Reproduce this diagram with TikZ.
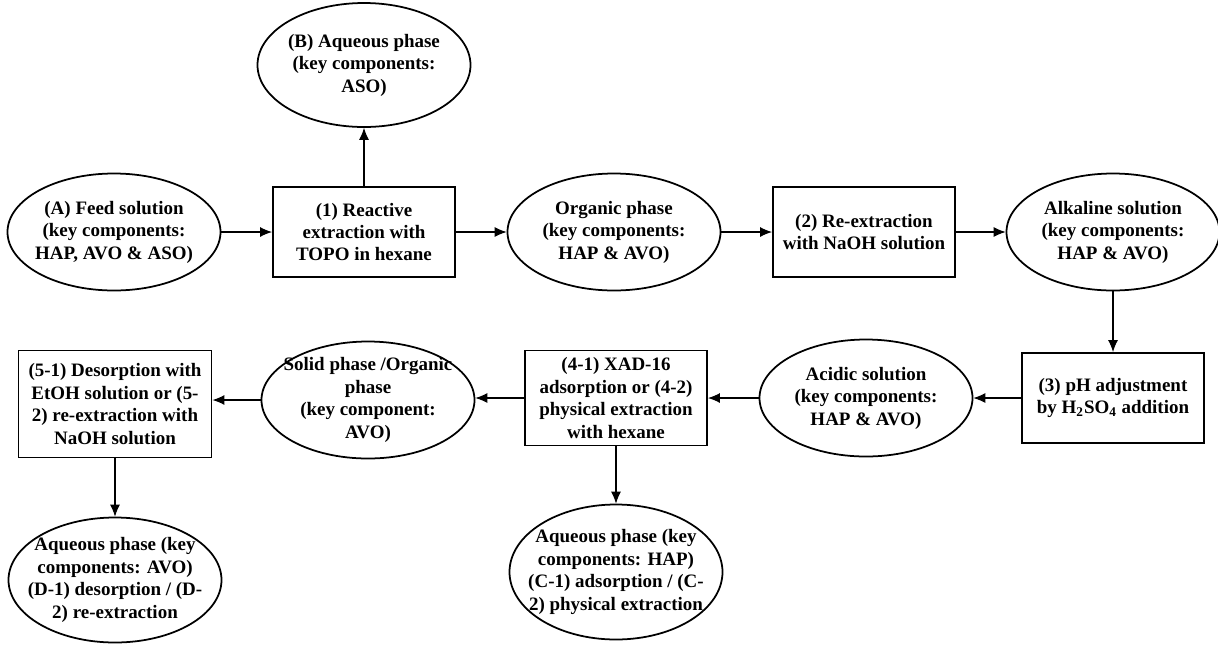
\documentclass[tikz,border=0pt]{standalone}
\usepackage{fontspec}
\setmainfont{Liberation Serif}
\usetikzlibrary{shapes.geometric,arrows.meta}
\tikzset{>={Latex[length=2.4mm,width=2mm]}}
\tikzset{
  phase/.style={draw,ellipse,line width=1pt,inner sep=0pt,minimum width=42.6mm,minimum height=23.4mm},
  stepbox/.style={draw,rectangle,line width=1.1pt,inner sep=0pt,minimum width=36.4mm,minimum height=18mm,align=center,font=\bfseries\fontsize{10.8}{12.8}\selectfont},
  txt/.style={align=center,inner sep=0pt,font=\bfseries\fontsize{10.8}{12.8}\selectfont},
  flow/.style={->,line width=0.6pt}
}

\begin{document}
\begin{tikzpicture}[x=0.2mm,y=-0.2mm]
\useasboundingbox (0,0) rectangle (1218,644);
% top row
\node[phase] (A) at (114,232) {};
\node[txt] (Atxt) at (A) {(A) Feed solution\\(key components:\\HAP, AVO \& ASO)};
\node[stepbox] (S1) at (364,232) {(1) Reactive\\extraction with\\TOPO in hexane};
\node[phase,minimum height=24.8mm] (B) at (364,65) {};
\node[txt] (Btxt) at (B) {(B) Aqueous phase\\(key components:\\ASO)};
\node[phase] (org) at (614,232) {};
\node[txt] (orgtxt) at (org) {Organic phase\\(key components:\\HAP \& AVO)};
\node[stepbox] (S2) at (864,232) {(2) Re-extraction\\with NaOH solution};
\node[phase] (alk) at (1113,232) {};
\node[txt] (alktxt) at (alk) {Alkaline solution\\(key components:\\HAP \& AVO)};
% middle row
\node[stepbox] (S3) at (1113,398) {(3) pH adjustment\\by H\textsubscript{2}SO\textsubscript{4} addition};
\node[phase] (acid) at (866,398) {};
\node[txt] (acidtxt) at (acid) {Acidic solution\\(key components:\\HAP \& AVO)};
\node[stepbox,minimum height=19mm] (S4) at (616,398) {(4-1) XAD-16\\adsorption or (4-2)\\physical extraction\\with hexane};
\node[phase] (sol) at (368,400) {};
\node[txt] (soltxt) at (sol) {Solid phase /Organic\\phase\\(key component:\\AVO)};
\node[stepbox,minimum width=38.6mm,minimum height=21.4mm] (S5) at (115,404) {(5-1) Desorption with\\EtOH solution or (5-\\2) re-extraction with\\NaOH solution};
% bottom row
\node[phase,minimum height=27mm] (C) at (616,572) {};
\node[txt] (Ctxt) at (C) {Aqueous phase (key\\components: HAP)\\(C-1) adsorption / (C-\\2) physical extraction};
\node[phase,minimum height=25mm] (D) at (115,580) {};
\node[txt] (Dtxt) at (D) {Aqueous phase (key\\components: AVO)\\(D-1) desorption / (D-\\2) re-extraction};

\draw[flow] (A) -- (S1);
\draw[flow] (S1) -- (B);
\draw[flow] (S1) -- (org);
\draw[flow] (org) -- (S2);
\draw[flow] (S2) -- (alk);
\draw[flow] (alk) -- (S3);
\draw[flow] (S3) -- (acid);
\draw[flow] (acid) -- (S4);
\draw[flow] (S4.west) -- (S4.west -| sol.east);
\draw[flow] (sol.west) -- (sol.west -| S5.east);
\draw[flow] (S4) -- (C);
\draw[flow] (S5) -- (D);
\end{tikzpicture}
\end{document}
